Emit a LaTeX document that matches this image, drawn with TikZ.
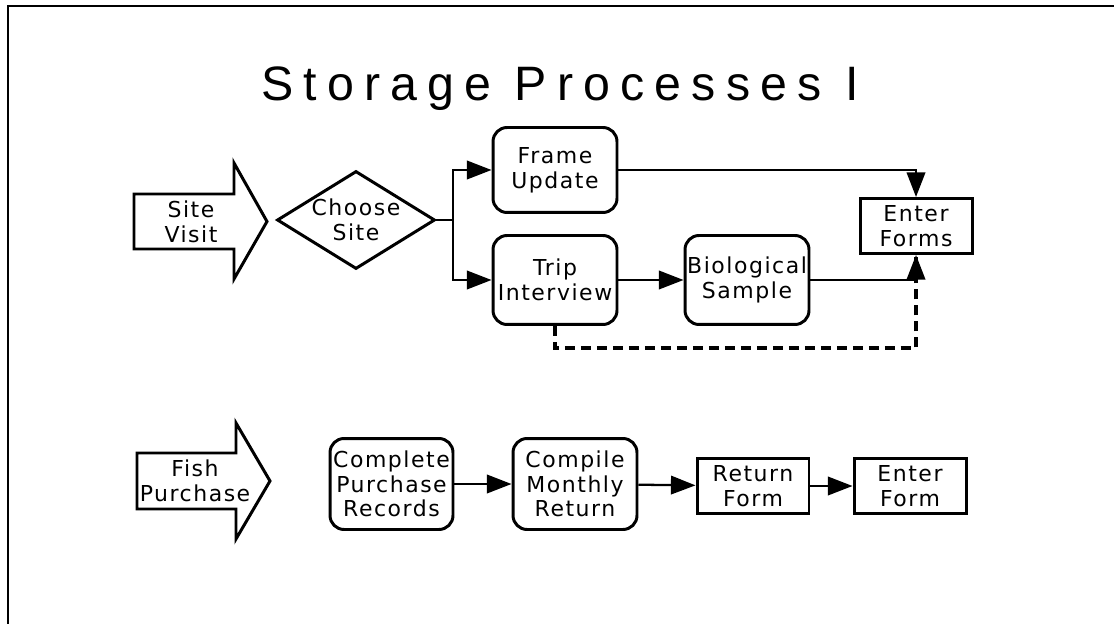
\documentclass[tikz,border=0pt]{standalone}
\usepackage{fontspec}
\setmainfont{DejaVu Sans}[LetterSpace=7]
\newfontfamily\titlefont{Liberation Sans}[LetterSpace=21]
\usetikzlibrary{shapes.geometric, arrows.meta}

\begin{document}
\begin{tikzpicture}[x=0.02cm,y=-0.02cm]
	\tikzstyle{frame} = [line width=1.4pt]
	\tikzstyle{process} = [rectangle,rounded corners=8pt,draw=black,line width=1.7pt,align=center,inner sep=0pt,font=\fontsize{12.5}{14}\selectfont]
	\tikzstyle{form} = [rectangle,draw=black,line width=1.7pt,align=center,inner sep=0pt,minimum width=2.24cm,minimum height=1.1cm,font=\fontsize{12.5}{14}\selectfont]
	\tikzstyle{decision} = [diamond,draw=black,line width=1.7pt,align=center,inner sep=0pt,aspect=1.6,minimum width=3.16cm,minimum height=1.96cm,font=\fontsize{12.5}{14}\selectfont]
	\tikzstyle{start} = [draw=black,line width=1.7pt,line join=miter]
	\tikzstyle{label} = [align=center,inner sep=0pt,font=\fontsize{12.5}{14}\selectfont]
	\tikzstyle{edge} = [line width=1.3pt]
	\tikzstyle{arr} = [edge,-{Triangle[length=14pt,width=10.5pt]}]
	\tikzstyle{dashline} = [line width=1.9pt,dash pattern=on 5.7pt off 3.4pt]
	\useasboundingbox (0,0) rectangle (1114,624);
	% border and title
	\draw[frame] (1120,6) -- (8,6) -- (8,630);
	\node[anchor=base,inner sep=0pt,font=\titlefont\fontsize{27.5}{30}\selectfont] (title) at (560,101) {Storage Processes I};
	% site visit
	\draw[start] (134,194) -- (234,194) -- (234,163) -- (267,221.5) -- (234,279) -- (234,249) -- (134,249) -- cycle;
	\node[label] (visit) at (191,222) {Site\\Visit};
	\node[decision] (choose) at (356,220) {Choose\\Site};
	\node[process,minimum width=2.48cm,minimum height=1.7cm] (frameupd) at (555,170) {Frame\\Update};
	\node[process,minimum width=2.48cm,minimum height=1.78cm] (trip) at (555,280) {Trip\\Interview};
	\node[process,minimum width=2.48cm,minimum height=1.78cm] (bio) at (747,280) {Biological\\Sample};
	\node[form] (forms) at (916,226) {Enter\\Forms};
	\coordinate (split) at (453,220);
	\draw[edge] (choose.east) -- (split);
	\draw[arr] (split) |- (frameupd.west);
	\draw[arr] (split) |- (trip.west);
	\draw[arr] (trip) -- (bio);
	\draw[arr] (frameupd.east) -| (forms.north);
	\draw[dashline] (trip.south) -- ++(0,22) -| (forms.south);
	\draw[arr] (bio.east) -| (forms.south);
	% fish purchase
	\draw[start] (137,453) -- (236,453) -- (236,423) -- (270,481) -- (236,539) -- (236,509) -- (137,509) -- cycle;
	\node[label] (fish) at (195,481) {Fish\\Purchase};
	\node[process,minimum width=2.46cm,minimum height=1.82cm] (records) at (391.5,484) {Complete\\Purchase\\Records};
	\node[process,minimum width=2.48cm,minimum height=1.82cm] (monthly) at (575,484) {Compile\\Monthly\\Return};
	\node[form] (retform) at (753,486) {Return\\Form};
	\node[form] (entform) at (910,486) {Enter\\Form};
	\draw[arr] (records) -- (monthly);
	\draw[arr] (monthly) -- (retform);
	\draw[arr] (retform) -- (entform);
\end{tikzpicture}
\end{document}
